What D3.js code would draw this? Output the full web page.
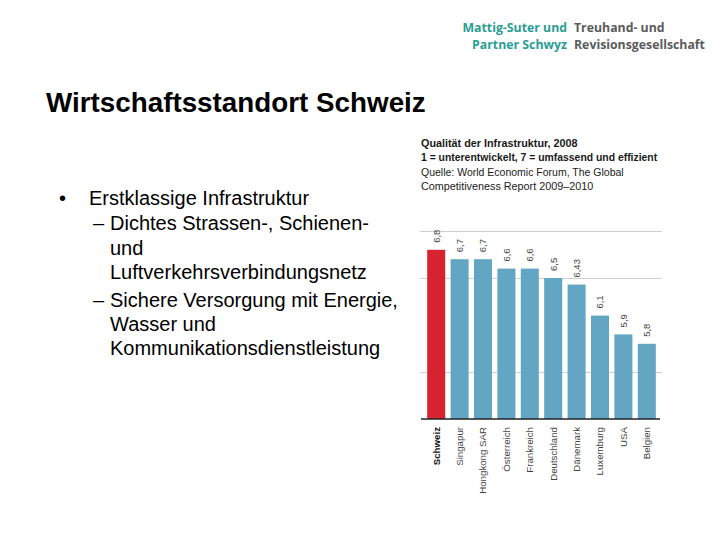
<!DOCTYPE html>
<html>
<head>
<meta charset="utf-8">
<script src="https://cdn.jsdelivr.net/npm/d3@7/dist/d3.min.js"></script>
<style>
  html, body { margin: 0; padding: 0; background: #ffffff; }
  svg { display: block; }
</style>
</head>
<body>
<svg id="chart" width="720" height="540"></svg>
<script>
// ---- data ----
const categories = ["Schweiz", "Singapur", "Hongkong SAR", "Österreich", "Frankreich",
                    "Deutschland", "Dänemark", "Luxemburg", "USA", "Belgien"];
const values = [6.8, 6.7, 6.7, 6.6, 6.6, 6.5, 6.43, 6.1, 5.9, 5.8];
const valueLabels = ["6,8", "6,7", "6,7", "6,6", "6,6", "6,5", "6,43", "6,1", "5,9", "5,8"];
const highlight = "Schweiz";
const gridTicks = [5.5, 6.5, 7];
const chartNotes = [
  "Qualität der Infrastruktur, 2008",
  "1 = unterentwickelt, 7 = umfassend und effizient",
  "Quelle: World Economic Forum, The Global",
  "Competitiveness Report 2009\u20132010"
];
const pageTitle = "Wirtschaftsstandort Schweiz";
const bullets = [
  { level: 0, lines: ["Erstklassige Infrastruktur"] },
  { level: 1, lines: ["Dichtes Strassen-, Schienen-", "und", "Luftverkehrsverbindungsnetz"] },
  { level: 1, lines: ["Sichere Versorgung mit Energie,", "Wasser und", "Kommunikationsdienstleistung"] }
];
const logoLeft = ["Mattig-Suter und", "Partner Schwyz"];
const logoRight = ["Treuhand- und", "Revisionsgesellschaft"];

// ---- drawing ----
const svg = d3.select("#chart");
const sans = "'Liberation Sans', Arial, Helvetica, sans-serif";

// logo
const logo = svg.append("g").attr("font-family", "'Open Sans', 'DejaVu Sans', sans-serif")
  .attr("font-weight", 700).attr("font-size", 12.3);
logoLeft.forEach((t, i) => {
  logo.append("text").attr("x", 567).attr("y", 32 + i * 17)
    .attr("text-anchor", "end").attr("fill", "#2a9e93").text(t);
});
logoRight.forEach((t, i) => {
  logo.append("text").attr("x", 574).attr("y", 32 + i * 17)
    .attr("fill", "#5b5b5b").text(t);
});

// title
svg.append("text").attr("x", 46).attr("y", 112)
  .attr("font-family", sans).attr("font-weight", 700).attr("font-size", 27.8)
  .attr("fill", "#000").text(pageTitle);

// bullets
const bl = svg.append("g").attr("font-family", sans).attr("font-size", 20).attr("fill", "#000");
const baselines = [205, 230, 254.5, 279, 307, 331, 355];
let li = 0;
bullets.forEach(b => {
  const markX = b.level === 0 ? 59 : 93;
  const textX = b.level === 0 ? 89 : 110;
  bl.append("text").attr("x", markX).attr("y", baselines[li])
    .text(b.level === 0 ? "\u2022" : "\u2013");
  b.lines.forEach(line => {
    bl.append("text").attr("x", textX).attr("y", baselines[li]).text(line);
    li++;
  });
});

// chart notes
const notes = svg.append("g").attr("font-family", sans).attr("fill", "#1a1a1a");
chartNotes.forEach((t, i) => {
  notes.append("text").attr("x", 421).attr("y", 146.5 + i * 14.5)
    .attr("font-size", i === 1 ? 10.4 : (i === 2 ? 10.5 : 10.8))
    .attr("font-weight", i < 2 ? 700 : 400).text(t);
});

// scales
const x = d3.scaleBand().domain(categories).range([424.5, 658.5])
  .paddingInner(0.23).paddingOuter(0.115);
const y = d3.scaleLinear().domain([5, 7]).range([419, 231]);

// gridlines
svg.append("g").selectAll("line").data(gridTicks).join("line")
  .attr("x1", 420).attr("x2", 662)
  .attr("y1", d => Math.round(y(d)) + 0.5).attr("y2", d => Math.round(y(d)) + 0.5)
  .attr("stroke", "#d0d0d0").attr("stroke-width", 1);

// bars
svg.append("g").selectAll("rect").data(categories).join("rect")
  .attr("x", d => x(d)).attr("width", x.bandwidth())
  .attr("y", (d, i) => y(values[i])).attr("height", (d, i) => y(5) - y(values[i]))
  .attr("fill", d => d === highlight ? "#d7232f" : "#62a6c3");

// baseline
svg.append("line").attr("x1", 421).attr("x2", 660)
  .attr("y1", y(5)).attr("y2", y(5)).attr("stroke", "#222").attr("stroke-width", 1.3);

// value labels
svg.append("g").attr("font-family", sans).attr("font-size", 9.5).attr("fill", "#444")
  .selectAll("text").data(categories).join("text")
  .attr("transform", (d, i) => `translate(${x(d) + x.bandwidth() / 2 + 3.3},${y(values[i]) - 7}) rotate(-90)`)
  .attr("text-anchor", "start")
  .text((d, i) => valueLabels[i]);

// category labels
svg.append("g").attr("font-family", sans).attr("font-size", 9.7)
  .selectAll("text").data(categories).join("text")
  .attr("transform", d => `translate(${x(d) + x.bandwidth() / 2 + 3.3},${y(5) + 8}) rotate(-90)`)
  .attr("text-anchor", "end")
  .attr("fill", d => d === highlight ? "#111" : "#444")
  .attr("font-weight", d => d === highlight ? 700 : 400)
  .text(d => d);
</script>
</body>
</html>
